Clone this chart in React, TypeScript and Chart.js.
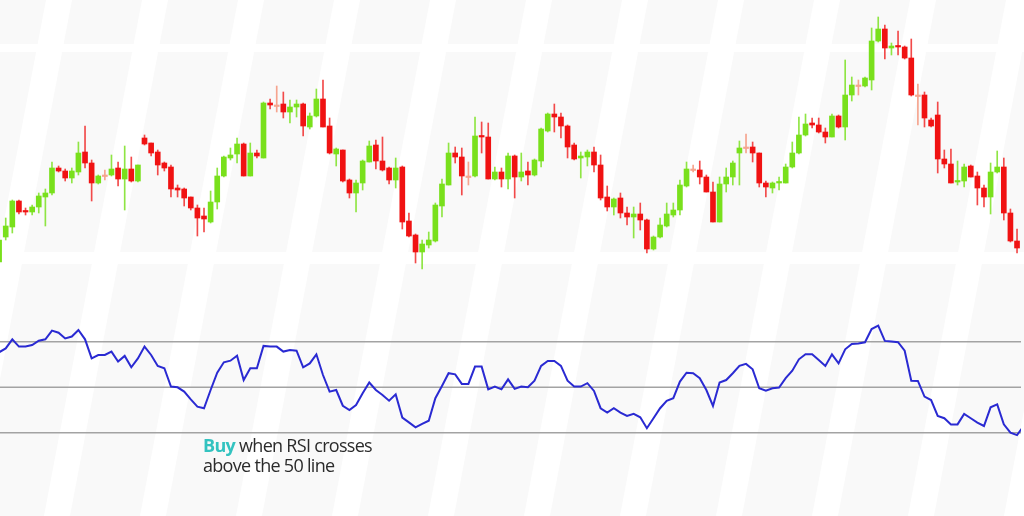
import React, { useEffect, useRef } from 'react';
import { Chart, registerables } from 'chart.js';

Chart.register(...registerables);

// ---- Price candles (arbitrary price units) ----
const candleOpen = [
  38, 63, 73, 99, 89, 88, 93, 103, 107, 132,
  129, 122, 128, 148, 137, 117, 125, 125, 132, 121,
  131, 119, 162, 157, 148, 137, 133, 112, 111, 103,
  92, 84, 78, 98, 124, 142, 146, 156, 124, 147,
  142, 197, 195, 196, 188, 193, 196, 173, 184, 201,
  174, 146, 150, 120, 107, 117, 138, 155, 139, 132,
  120, 133, 79, 65, 48, 55, 59, 94, 115, 147,
  143, 124, 124, 164, 163, 121, 128, 121, 144, 123,
  129, 125, 139, 169, 186, 183, 174, 155, 142, 143,
  148, 135, 103, 93, 102, 87, 83, 86, 80, 51,
  63, 74, 85, 90, 114, 131, 130, 123, 108, 78,
  116, 123, 147, 153, 153, 147, 117, 112, 117, 117,
  133, 147, 165, 177, 175, 168, 163, 184, 173, 205,
  215, 214, 220, 259, 271, 252, 254, 253, 242, 205,
  205, 180, 185, 141, 136, 118, 119, 134, 124, 112,
  103, 128, 133, 87, 59,
];
const candleHigh = [
  65, 82, 100, 100, 92, 95, 107, 111, 138, 134,
  131, 132, 158, 174, 140, 125, 130, 145, 138, 154,
  143, 135, 165, 157, 150, 138, 135, 115, 112, 103,
  95, 92, 109, 132, 144, 152, 162, 157, 157, 150,
  198, 201, 214, 208, 200, 200, 197, 187, 211, 220,
  182, 152, 150, 121, 120, 140, 159, 160, 163, 133,
  142, 134, 87, 66, 60, 68, 97, 121, 157, 153,
  152, 138, 183, 178, 177, 133, 132, 147, 145, 147,
  138, 141, 172, 187, 196, 187, 175, 157, 148, 150,
  153, 145, 114, 102, 107, 93, 93, 97, 81, 64,
  82, 97, 97, 120, 138, 135, 139, 125, 118, 123,
  132, 139, 159, 166, 158, 147, 119, 118, 123, 136,
  158, 183, 186, 182, 182, 172, 186, 185, 240, 223,
  220, 223, 272, 283, 275, 257, 269, 254, 261, 216,
  208, 182, 198, 150, 151, 139, 136, 135, 128, 115,
  137, 149, 142, 91, 71,
];
const candleLow = [
  32, 60, 67, 86, 85, 85, 87, 74, 105, 128,
  119, 117, 125, 132, 99, 116, 120, 124, 114, 90,
  118, 118, 155, 144, 125, 129, 103, 103, 94, 90,
  64, 68, 77, 91, 123, 140, 137, 124, 124, 142,
  142, 191, 188, 182, 177, 183, 164, 171, 183, 173,
  146, 134, 118, 102, 88, 110, 138, 131, 129, 116,
  112, 71, 63, 37, 31, 52, 58, 83, 115, 137,
  105, 115, 123, 147, 121, 120, 113, 111, 102, 119,
  115, 124, 133, 168, 168, 162, 142, 140, 122, 134,
  128, 100, 89, 85, 82, 75, 62, 70, 47, 50,
  62, 73, 83, 85, 113, 128, 116, 108, 78, 78,
  108, 115, 115, 147, 138, 113, 103, 107, 110, 117,
  132, 146, 164, 172, 167, 157, 163, 172, 160, 199,
  205, 213, 210, 258, 241, 245, 245, 241, 204, 175,
  173, 173, 127, 132, 117, 115, 113, 123, 95, 93,
  86, 127, 80, 58, 47,
];
const candleClose = [
  60, 74, 99, 88, 88, 93, 104, 107, 132, 129,
  122, 129, 147, 137, 117, 124, 125, 131, 121, 131,
  119, 135, 156, 147, 135, 132, 111, 110, 102, 92,
  82, 81, 98, 124, 143, 145, 156, 124, 147, 144,
  197, 195, 195, 188, 193, 196, 174, 184, 201, 173,
  147, 151, 119, 107, 117, 139, 154, 139, 130, 120,
  132, 78, 64, 48, 56, 60, 95, 116, 147, 143,
  124, 124, 164, 163, 121, 128, 121, 144, 123, 128,
  125, 140, 171, 186, 183, 174, 153, 141, 144, 148,
  135, 102, 93, 101, 87, 83, 86, 80, 51, 63,
  75, 86, 90, 115, 131, 131, 123, 108, 78, 116,
  123, 137, 152, 153, 147, 117, 113, 117, 118, 133,
  147, 165, 176, 175, 168, 163, 184, 173, 205, 215,
  215, 222, 259, 271, 252, 254, 253, 242, 205, 205,
  182, 174, 141, 136, 117, 119, 133, 123, 112, 103,
  128, 133, 87, 59, 52,
];

// ---- RSI (one value per session, last one runs off the right edge) ----
const rsiValues = [
  65.4, 67.1, 71.1, 67.9, 67.9, 68.6, 70.5, 71.1, 74.9, 74.0,
  71.5, 72.3, 75.2, 71.1, 62.7, 64.2, 64.2, 65.7, 61.3, 63.8,
  58.8, 62.7, 67.9, 64.2, 59.4, 58.4, 50.3, 50.0, 48.1, 44.7,
  41.5, 40.8, 48.8, 56.4, 61.0, 61.7, 63.9, 53.2, 58.4, 58.4,
  68.2, 67.9, 67.9, 65.7, 66.4, 66.1, 58.8, 60.5, 64.5, 55.4,
  48.1, 48.8, 41.9, 40.0, 42.2, 47.4, 52.1, 48.8, 46.6, 44.1,
  46.9, 36.7, 34.6, 32.4, 33.9, 35.3, 45.2, 50.6, 56.2, 55.7,
  51.5, 51.5, 59.1, 59.1, 49.1, 50.3, 49.1, 53.5, 49.3, 50.3,
  50.0, 52.9, 59.4, 61.6, 61.6, 59.4, 52.9, 50.3, 50.3, 51.8,
  48.4, 40.8, 38.9, 40.8, 38.9, 37.4, 38.3, 36.8, 32.0, 36.4,
  40.8, 44.1, 45.2, 52.5, 56.4, 56.2, 54.0, 48.8, 41.8, 52.1,
  53.2, 56.2, 59.4, 60.3, 57.9, 49.6, 48.5, 49.6, 49.9, 54.0,
  57.3, 62.3, 64.5, 64.5, 62.0, 59.4, 64.5, 60.5, 66.7, 69.0,
  69.3, 69.8, 75.6, 77.1, 70.4, 70.1, 69.8, 66.1, 52.9, 52.8,
  45.9, 44.4, 37.4, 36.4, 33.7, 33.7, 38.3, 36.4, 34.5, 33.0,
  41.2, 42.5, 33.7, 30.1, 29.0, 33.0,
];
const rsiLevels = [30, 50, 70];

const GREEN = '#79e01c';
const RED = '#f01212';
const DOJI = '#f6a48e';
const GREEN_WICK = '#8fe544';
const RED_WICK = '#f24a4a';

function candleColor(i: number, wick: boolean) {
  const o = candleOpen[i];
  const c = candleClose[i];
  if (c > o) return wick ? GREEN_WICK : GREEN;
  if (c < o) return wick ? RED_WICK : RED;
  return DOJI;
}

// faint slanted watermark behind the chart (decoration only)
const bgPlugin = {
  id: 'bgFill',
  beforeDraw(chart: any) {
    const { ctx, width, height } = chart;
    ctx.save();
    ctx.fillStyle = '#ffffff';
    ctx.fillRect(0, 0, width, height);
    ctx.fillStyle = '#f9f9f9';
    const rows = [
      [0, 44],
      [52, 252],
      [264, 516],
    ];
    const period = 96;
    const stripe = 70;
    const slope = 0.19;
    rows.forEach(([y0, y1]) => {
      for (let k = -2; k < 14; k++) {
        const xa = 72 + period * k;
        ctx.beginPath();
        ctx.moveTo(xa - slope * y0, y0);
        ctx.lineTo(xa + stripe - slope * y0, y0);
        ctx.lineTo(xa + stripe - slope * y1, y1);
        ctx.lineTo(xa - slope * y1, y1);
        ctx.closePath();
        ctx.fill();
      }
    });
    ctx.restore();
  },
};

const levelsPlugin = {
  id: 'rsiLevels',
  beforeDatasetsDraw(chart: any) {
    const { ctx, chartArea } = chart;
    const scale = chart.scales.y2;
    ctx.save();
    ctx.strokeStyle = '#a3a3a3';
    ctx.lineWidth = 1.5;
    rsiLevels.forEach((v) => {
      const y = scale.getPixelForValue(v);
      ctx.beginPath();
      ctx.moveTo(chartArea.left, y);
      ctx.lineTo(chartArea.right, y);
      ctx.stroke();
    });
    ctx.restore();
  },
};

export default function App() {
  const canvasRef = useRef<HTMLCanvasElement | null>(null);

  useEffect(() => {
    const canvas = canvasRef.current;
    if (!canvas) return;
    const idx = candleOpen.map((_, i) => i);
    const wickData = idx.map((i) => ({ x: i, y: [candleLow[i], candleHigh[i]] }));
    const bodyData = idx.map((i) => ({
      x: i,
      y: [Math.min(candleOpen[i], candleClose[i]), Math.max(candleOpen[i], candleClose[i])],
    }));
    const rsiData = rsiValues.map((v, i) => ({ x: i, y: v }));

    const chart = new Chart(canvas, {
      type: 'bar',
      data: {
        datasets: [
          {
            type: 'line',
            label: 'RSI',
            data: rsiData as any,
            yAxisID: 'y2',
            borderColor: '#2a2ad2',
            borderWidth: 2,
            pointRadius: 0,
            tension: 0,
            order: 1,
          } as any,
          {
            type: 'bar',
            label: 'Body',
            data: bodyData as any,
            yAxisID: 'y',
            backgroundColor: idx.map((i) => candleColor(i, false)),
            barThickness: 5,
            minBarLength: 1.5,
            grouped: false,
            borderWidth: 0,
            order: 2,
          } as any,
          {
            type: 'bar',
            label: 'Wick',
            data: wickData as any,
            yAxisID: 'y',
            backgroundColor: idx.map((i) => candleColor(i, true)),
            barThickness: 1,
            grouped: false,
            borderWidth: 0,
            order: 3,
          } as any,
        ],
      },
      options: {
        animation: false,
        responsive: false,
        events: [],
        layout: { padding: { left: 0, right: 3, top: 0, bottom: 0 } },
        plugins: { legend: { display: false }, tooltip: { enabled: false } },
        scales: {
          x: { type: 'linear', min: 0.136, max: 154.6, offset: false, display: false, grid: { offset: false } },
          y: { type: 'linear', min: -216, max: 300, display: false },
          y2: { type: 'linear', min: -6.57, max: 220.24, display: false },
        },
      },
      plugins: [bgPlugin, levelsPlugin],
    } as any);
    return () => chart.destroy();
  }, []);

  return (
    <div style={{ position: 'absolute', left: 0, top: 0, width: 1024, height: 516, overflow: 'hidden', background: '#ffffff' }}>
      <canvas ref={canvasRef} width={1024} height={516} style={{ display: 'block' }} />
      <div
        style={{
          position: 'absolute',
          left: 203,
          top: 435,
          fontFamily: '"Open Sans", sans-serif',
          fontSize: 18,
          lineHeight: '20px',
          letterSpacing: '-0.7px',
          color: '#2b2b2b',
          whiteSpace: 'nowrap',
        }}
      >
        <div>
          <span style={{ color: '#33c3c0', fontWeight: 700 }}>Buy</span> when RSI crosses
        </div>
        <div>above the 50 line</div>
      </div>
    </div>
  );
}
